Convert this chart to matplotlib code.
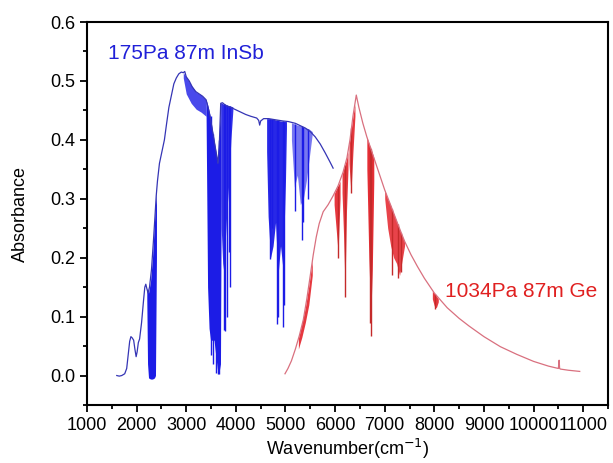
import matplotlib
matplotlib.use("Agg")
import matplotlib.pyplot as plt
from matplotlib.ticker import MultipleLocator, FormatStrFormatter

plt.rcParams['font.family'] = ['Liberation Sans', 'DejaVu Sans']

# ---------------- InSb (blue) spectrum ----------------
blue_x = [1600, 1650, 1700, 1760, 1800, 1830, 1860, 1885, 1910, 1940, 1965, 1990, 2010,
          2035, 2060, 2100, 2140, 2165, 2185, 2205, 2230, 2260, 2300, 2340, 2370, 2395,
          2420, 2460, 2510, 2560, 2600, 2650, 2700, 2750, 2800, 2850, 2900, 2940, 2970,
          3000, 3060, 3120, 3190, 3260, 3330, 3400, 3440, 3480, 3520, 3560, 3600, 3640,
          3670, 3695, 3730, 3800, 3900, 4000, 4100, 4200, 4300, 4420, 4460, 4480, 4500,
          4560, 4660, 4800, 4950, 5060, 5200, 5300, 5400, 5500, 5600, 5700, 5800, 5900, 5960]
blue_y = [0.0, -0.001, 0.0, 0.003, 0.012, 0.035, 0.058, 0.066, 0.064, 0.060, 0.045, 0.032,
          0.040, 0.056, 0.062, 0.09, 0.128, 0.15, 0.155, 0.148, 0.14, 0.15, 0.18, 0.23,
          0.27, 0.305, 0.33, 0.36, 0.38, 0.40, 0.425, 0.455, 0.475, 0.495, 0.505, 0.512,
          0.515, 0.514, 0.516, 0.507, 0.50, 0.49, 0.482, 0.478, 0.474, 0.468, 0.455, 0.44,
          0.42, 0.40, 0.38, 0.36, 0.40, 0.462, 0.463, 0.458, 0.455, 0.451, 0.447, 0.443,
          0.44, 0.437, 0.433, 0.425, 0.432, 0.436, 0.436, 0.434, 0.432, 0.431, 0.428,
          0.424, 0.42, 0.414, 0.405, 0.393, 0.378, 0.362, 0.352]

# dense absorption bands: (x, top, bottom, alpha)
blue_bands = [
    ([2205, 2220, 2240, 2280, 2320, 2360, 2380, 2400],
     [0.148, 0.145, 0.14, 0.16, 0.20, 0.26, 0.29, 0.31],
     [0.13, 0.02, -0.004, -0.006, -0.006, -0.004, 0.0, 0.2], 1.0),
    ([2940, 3000, 3100, 3200, 3300, 3400],
     [0.514, 0.507, 0.493, 0.481, 0.476, 0.468],
     [0.505, 0.478, 0.462, 0.452, 0.447, 0.44], 0.8),
    ([3400, 3430, 3460, 3490, 3520, 3560, 3600, 3630, 3660, 3690, 3705],
     [0.468, 0.46, 0.45, 0.437, 0.42, 0.40, 0.38, 0.36, 0.40, 0.462, 0.463],
     [0.44, 0.15, 0.08, 0.06, 0.06, 0.06, 0.03, 0.01, 0.005, 0.02, 0.30], 1.0),
    ([3705, 3740, 3780, 3820, 3860, 3900, 3940],
     [0.463, 0.461, 0.46, 0.459, 0.458, 0.457, 0.456],
     [0.25, 0.18, 0.22, 0.28, 0.33, 0.40, 0.45], 0.9),
    ([4620, 4650, 4700, 4750, 4800, 4850, 4900, 4950, 5000, 5020],
     [0.436, 0.436, 0.436, 0.435, 0.434, 0.433, 0.432, 0.432, 0.431, 0.431],
     [0.38, 0.27, 0.20, 0.22, 0.26, 0.17, 0.22, 0.18, 0.33, 0.42], 0.95),
    ([5120, 5180, 5240, 5300, 5360, 5420, 5480, 5540],
     [0.429, 0.427, 0.425, 0.424, 0.422, 0.42, 0.418, 0.414],
     [0.40, 0.32, 0.34, 0.29, 0.30, 0.33, 0.37, 0.41], 0.6),
]
# individual deep lines: x, top, bottom
blue_line_x = [3493, 3540, 3607, 3640, 3660, 3760, 3790, 3827, 3860, 3880,
               4693, 4720, 4827, 4850, 4960, 4980, 5193, 5327, 5360, 5460]
blue_line_top = [0.44, 0.41, 0.37, 0.36, 0.40, 0.461, 0.46, 0.459, 0.458, 0.457,
                 0.436, 0.436, 0.434, 0.433, 0.432, 0.431, 0.427, 0.423, 0.422, 0.419]
blue_line_bot = [0.035, 0.02, 0.004, 0.003, 0.003, 0.078, 0.075, 0.10, 0.21, 0.15,
                 0.197, 0.25, 0.088, 0.10, 0.083, 0.12, 0.28, 0.23, 0.26, 0.30]

# ---------------- Ge (red) spectrum ----------------
red_x = [4990, 5050, 5120, 5200, 5280, 5360, 5430, 5500, 5560, 5620, 5680, 5760, 5860,
         5960, 6060, 6160, 6240, 6300, 6360, 6427, 6480, 6560, 6640, 6720, 6800, 6900,
         7000, 7130, 7260, 7400, 7530, 7660, 7800, 8000, 8260, 8500, 8700, 9000, 9330,
         9660, 10000, 10300, 10500, 10515, 10525, 10540, 10700, 10930]
red_y = [0.003, 0.012, 0.025, 0.045, 0.068, 0.095, 0.13, 0.17, 0.205, 0.235, 0.258,
         0.278, 0.29, 0.305, 0.322, 0.345, 0.37, 0.40, 0.44, 0.476, 0.455, 0.428, 0.405,
         0.385, 0.365, 0.34, 0.315, 0.287, 0.258, 0.228, 0.205, 0.185, 0.165, 0.14,
         0.115, 0.097, 0.084, 0.066, 0.049, 0.036, 0.024, 0.016, 0.012, 0.026, 0.012,
         0.011, 0.009, 0.007]

red_bands = [
    ([5260, 5330, 5400, 5470, 5540],
     [0.063, 0.088, 0.115, 0.152, 0.195],
     [0.045, 0.065, 0.09, 0.12, 0.17], 0.9),
    ([5980, 6020, 6060, 6100],
     [0.308, 0.316, 0.322, 0.33],
     [0.29, 0.25, 0.21, 0.30], 0.9),
    ([6140, 6170, 6200, 6230, 6260],
     [0.34, 0.35, 0.358, 0.367, 0.38],
     [0.31, 0.24, 0.15, 0.28, 0.35], 0.9),
    ([6280, 6320, 6360, 6400],
     [0.39, 0.415, 0.44, 0.46],
     [0.36, 0.31, 0.38, 0.44], 0.9),
    ([6640, 6680, 6720, 6750, 6780],
     [0.405, 0.395, 0.385, 0.378, 0.37],
     [0.35, 0.20, 0.10, 0.18, 0.33], 0.95),
    ([7000, 7060, 7120, 7180, 7240, 7300, 7360, 7400],
     [0.315, 0.30, 0.289, 0.275, 0.262, 0.248, 0.235, 0.228],
     [0.30, 0.25, 0.22, 0.20, 0.19, 0.17, 0.20, 0.22], 0.85),
    ([7960, 8000, 8040, 8080],
     [0.143, 0.14, 0.135, 0.13],
     [0.13, 0.118, 0.115, 0.125], 0.9),
]
red_line_x = [6060, 6193, 6327, 6710, 6727, 7150, 7260, 7330, 8020]
red_line_top = [0.322, 0.358, 0.42, 0.388, 0.384, 0.283, 0.258, 0.242, 0.138]
red_line_bot = [0.20, 0.134, 0.31, 0.09, 0.067, 0.17, 0.165, 0.175, 0.113]

x_ticks = [1000, 2000, 3000, 4000, 5000, 6000, 7000, 8000, 9000, 10000, 11000]
y_ticks = [0.0, 0.1, 0.2, 0.3, 0.4, 0.5, 0.6]

BLUE = '#1c1ce6'
BLUE_THIN = '#3535b5'
RED = '#e4222a'
RED_THIN = '#d9707f'
RED_DARK = '#c42a2a'

fig = plt.figure(figsize=(6.13, 4.63), dpi=100)
ax = fig.add_axes([87 / 613, 58 / 463, 521 / 613, 383 / 463])

# blue
for bx, bt, bb, a in blue_bands:
    ax.fill_between(bx, bb, bt, color=BLUE, alpha=a, linewidth=0)
ax.vlines(blue_line_x, blue_line_bot, blue_line_top, color=BLUE, linewidth=1.0)
ax.plot(blue_x, blue_y, color=BLUE_THIN, linewidth=0.9)

# red
for bx, bt, bb, a in red_bands:
    ax.fill_between(bx, bb, bt, color=RED, alpha=a, linewidth=0)
ax.vlines(red_line_x, red_line_bot, red_line_top, color=RED_DARK, linewidth=1.0)
ax.plot(red_x, red_y, color=RED_THIN, linewidth=0.9)

ax.text(1420, 0.547, '175Pa 87m InSb', color='#2020d8', fontsize=15, va='center', ha='left')
ax.text(8220, 0.142, '1034Pa 87m Ge', color='#e02020', fontsize=15, va='center', ha='left')

ax.set_xlim(1000, 11500)
ax.set_ylim(-0.05, 0.6)
ax.set_xticks(x_ticks)
ax.set_yticks(y_ticks)
ax.xaxis.set_minor_locator(MultipleLocator(500))
ax.yaxis.set_minor_locator(MultipleLocator(0.05))
ax.yaxis.set_major_formatter(FormatStrFormatter('%.1f'))
ax.tick_params(which='both', direction='out', top=False, right=False, labelsize=13,
               width=1.3, colors='black')
ax.tick_params(which='major', length=5)
ax.tick_params(which='minor', length=3)
for s in ax.spines.values():
    s.set_linewidth(1.5)

ax.set_xlabel('Wavenumber(cm$^{-1}$)', fontsize=13, labelpad=2)
ax.set_ylabel('Absorbance', fontsize=13, labelpad=15)

fig.savefig('out.png', dpi=100)
